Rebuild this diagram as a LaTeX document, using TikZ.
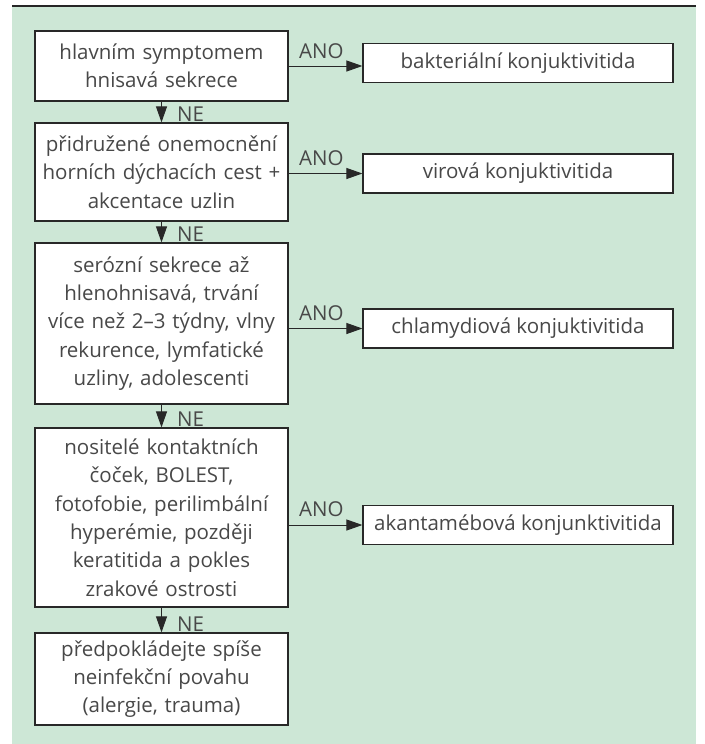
\documentclass[tikz,border=0pt]{standalone}
\usepackage{fontspec}
\setmainfont{Open Sans}
\usetikzlibrary{arrows.meta}
\definecolor{bggreen}{RGB}{205,231,214}
\definecolor{ink}{RGB}{40,40,40}
\definecolor{txt}{RGB}{72,72,72}
\begin{document}
\begin{tikzpicture}[x=1pt,y=-1pt,
  every node/.style={font=\fontsize{20.5}{28.3}\selectfont, text=txt, inner sep=0pt},
  leftbox/.style={draw=ink, fill=white, line width=1.2pt, minimum width=253pt, text width=251pt, align=center},
  resbox/.style={draw=ink, fill=white, line width=1.2pt, minimum width=310pt, minimum height=39pt, align=center},
  conn/.style={draw=ink, line width=1pt, -{Triangle[length=16pt,width=11pt]}},
  lbl/.style={font=\fontsize{20.5}{24}\selectfont, anchor=base west}]
\useasboundingbox (0,0) rectangle (704,744);
\fill[bggreen] (12,7) rectangle (696,744);
\draw[line width=2.4pt, black!85] (12,6) -- (696,6);

\node[leftbox, minimum height=70pt] (b1) at (161.5,66) {hlavním symptomem\\hnisavá sekrece};
\node[leftbox, minimum height=98pt] (b2) at (161.5,172) {přidružené onemocnění\\horních dýchacích cest +\\akcentace uzlin};
\node[leftbox, minimum height=161pt] (b3) at (161.5,323.5) {serózní sekrece až\\hlenohnisavá, trvání\\více než 2–3 týdny, vlny\\rekurence, lymfatické\\uzliny, adolescenti};
\node[leftbox, minimum height=179pt] (b4) at (161.5,517.5) {nositelé kontaktních\\čoček, BOLEST,\\fotofobie, perilimbální\\hyperémie, později\\keratitida a pokles\\zrakové ostrosti};
\node[leftbox, minimum height=92pt] (b5) at (161.5,679) {předpokládejte spíše\\neinfekční povahu\\(alergie, trauma)};

\node[resbox] (r1) at (518,63) {bakteriální konjuktivitida};
\node[resbox] (r2) at (518,173.5) {virová konjuktivitida};
\node[resbox] (r3) at (518,328.5) {chlamydiová konjuktivitida};
\node[resbox] (r4) at (518,525) {akantamébová konjunktivitida};

\draw[conn] (b1.east) -- (b1.east -| r1.west);
\draw[conn] (b2.east |- r2.west) -- (r2.west);
\draw[conn] (b3.east |- r3.west) -- (r3.west);
\draw[conn] (b4.east |- r4.west) -- (r4.west);

\draw[conn] (b1.south) -- (b2.north);
\draw[conn] (b2.south) -- (b3.north);
\draw[conn] (b3.south) -- (b4.north);
\draw[conn] (b4.south) -- (b5.north);

\node[lbl] (a1) at (299,58) {ANO};
\node[lbl] (a2) at (299,165) {ANO};
\node[lbl] (a3) at (299,320) {ANO};
\node[lbl] (a4) at (299,516) {ANO};

\node[lbl] (n1) at (177,121) {NE};
\node[lbl] (n2) at (177,241) {NE};
\node[lbl] (n3) at (177,426) {NE};
\node[lbl] (n4) at (177,631) {NE};
\end{tikzpicture}
\end{document}
